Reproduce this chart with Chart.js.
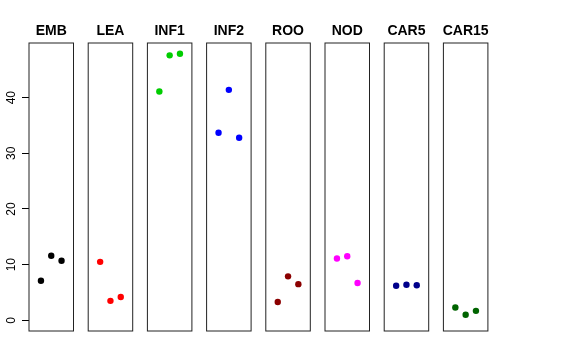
<!DOCTYPE html>
<html>
<head>
<meta charset="utf-8">
<script src="https://cdn.jsdelivr.net/npm/chart.js@4"></script>
<style>
  html, body { margin: 0; padding: 0; background: #fff; }
  #wrap { position: relative; width: 576px; height: 360px; }
  #wrap canvas { position: absolute; left: 0; top: 0; }
</style>
</head>
<body>
<div id="wrap"></div>
<script>
// tissues (one panel each)
const categories = ['EMB', 'LEA', 'INF1', 'INF2', 'ROO', 'NOD', 'CAR5', 'CAR15'];
const pointColors = ['#000000', '#FF0000', '#00CD00', '#0000FF', '#8B0000', '#FF00FF', '#00008B', '#006400'];
// replicate values, one per tissue
const rep1 = [7.1, 10.5, 41.1, 33.7, 3.3, 11.1, 6.2, 2.3];
const rep2 = [11.6, 3.5, 47.6, 41.4, 7.9, 11.5, 6.4, 1.0];
const rep3 = [10.7, 4.2, 47.9, 32.8, 6.5, 6.7, 6.3, 1.7];
const yTicks = [0, 10, 20, 30, 40];

const W = 576, H = 360;
const panelTop = 43, panelBottom = 331;
const firstLeft = 29, panelStep = 59.2, panelWidth = 44.5;
const fontFam = '"Liberation Sans", Arial, Helvetica, sans-serif';

// box + titulo de cada panel
const panelDeco = {
    id: 'panelDeco',
    afterDraw(chart, args, opts) {
        const a = chart.chartArea;
        const ctx = chart.ctx;
        ctx.save();
        ctx.strokeStyle = '#222';
        ctx.lineWidth = 1;
        ctx.strokeRect(a.left, a.top, a.right - a.left, a.bottom - a.top);
        ctx.fillStyle = '#000';
        ctx.font = 'bold 14px ' + fontFam;
        ctx.textAlign = 'center';
        ctx.textBaseline = 'alphabetic';
        ctx.fillText(opts.text, (a.left + a.right) / 2, 34.5);
        ctx.restore();
    }
};

const wrap = document.getElementById('wrap');

categories.forEach((cat, i) => {
    const canvas = document.createElement('canvas');
    canvas.width = W;
    canvas.height = H;
    wrap.appendChild(canvas);

    const left = firstLeft + i * panelStep;
    const showY = i === 0;

    const yScale = {
        type: 'linear',
        min: -1.92,
        max: 49.82,
        display: showY,
        afterBuildTicks: s => { s.ticks = yTicks.map(v => ({ value: v })); },
        border: { display: false },
        grid: {
            drawOnChartArea: false,
            drawTicks: true,
            tickLength: 7,
            color: '#000'
        },
        ticks: {
            color: '#000',
            font: { family: fontFam, size: 12 },
            padding: 4,
            crossAlign: 'center',
            minRotation: 90,
            maxRotation: 90
        }
    };
    if (showY) yScale.afterFit = s => { s.width = firstLeft; };

    new Chart(canvas.getContext('2d'), {
        type: 'scatter',
        data: {
            datasets: [{
                data: [
                    { x: 1, y: rep1[i] },
                    { x: 2, y: rep2[i] },
                    { x: 3, y: rep3[i] }
                ],
                backgroundColor: pointColors[i],
                borderColor: pointColors[i],
                borderWidth: 0,
                pointRadius: 3.2
            }]
        },
        options: {
            responsive: false,
            animation: false,
            devicePixelRatio: 1,
            layout: {
                padding: {
                    left: showY ? 0 : left,
                    right: W - left - panelWidth,
                    top: panelTop,
                    bottom: H - panelBottom
                }
            },
            plugins: {
                legend: { display: false },
                tooltip: { enabled: false },
                panelDeco: { text: cat }
            },
            scales: {
                x: {
                    type: 'linear',
                    min: -0.16,
                    max: 4.16,
                    display: false
                },
                y: yScale
            }
        },
        plugins: [panelDeco]
    });
});
</script>
</body>
</html>
